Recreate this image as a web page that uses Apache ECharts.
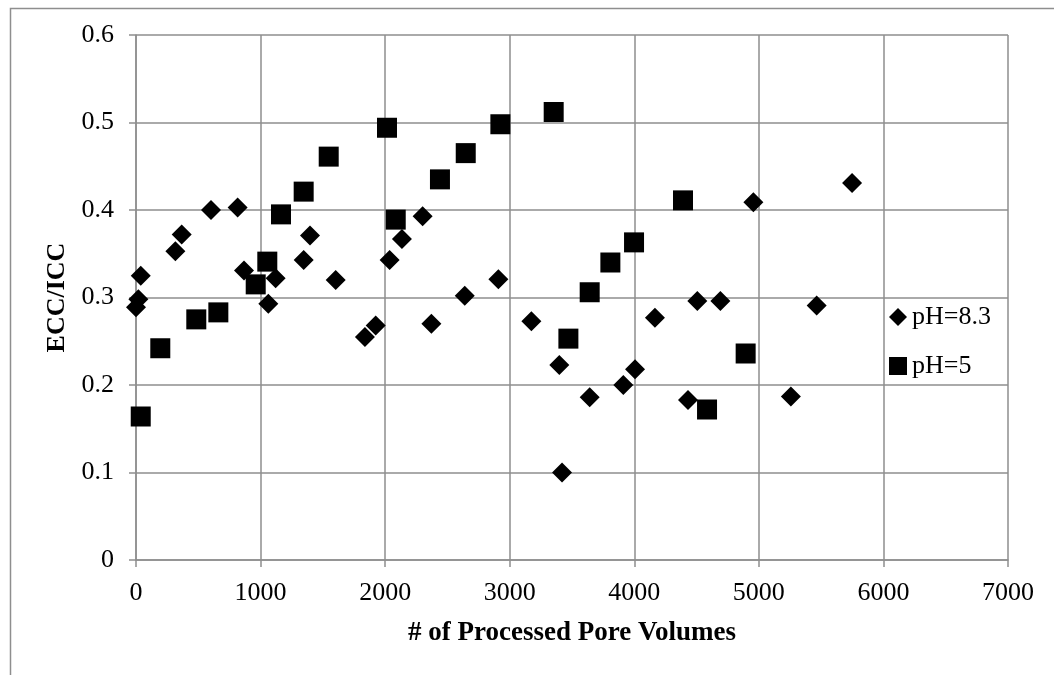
<!DOCTYPE html>
<html>
<head>
<meta charset="utf-8">
<title>ECC/ICC vs processed pore volumes</title>
<script src="https://cdn.jsdelivr.net/npm/echarts@6/dist/echarts.min.js"></script>
<style>
  html, body { margin: 0; padding: 0; background: #fff; }
  #chart { width: 1054px; height: 675px; }
</style>
</head>
<body>
<div id="chart"></div>
<script>
// Series names
const seriesNames = ['pH=8.3', 'pH=5'];

// pH=8.3: processed pore volumes and ECC/ICC
const ph83X = [0, 19, 38, 316, 367, 602, 816, 867, 1062, 1121, 1346, 1397, 1603, 1838, 1924,
  2036, 2135, 2301, 2371, 2639, 2909, 3174, 3398, 3420, 3642, 3912, 4006, 4166, 4431, 4506,
  4691, 4956, 5257, 5464, 5748];
const ph83Y = [0.289, 0.298, 0.325, 0.353, 0.372, 0.400, 0.403, 0.331, 0.293, 0.322, 0.343, 0.371, 0.320, 0.255, 0.268,
  0.343, 0.367, 0.393, 0.270, 0.302, 0.321, 0.273, 0.223, 0.100, 0.186, 0.200, 0.218, 0.277, 0.183, 0.296,
  0.296, 0.409, 0.187, 0.291, 0.431];

// pH=5: processed pore volumes and ECC/ICC
const ph5X = [38, 195, 484, 661, 961, 1054, 1164, 1346, 1547, 2015, 2085, 2440, 2647, 2925,
  3353, 3471, 3642, 3808, 3998, 4391, 4584, 4894];
const ph5Y = [0.164, 0.242, 0.275, 0.283, 0.315, 0.341, 0.395, 0.421, 0.461, 0.494, 0.389, 0.435, 0.465, 0.498,
  0.512, 0.253, 0.306, 0.340, 0.363, 0.411, 0.172, 0.236];

// Axis ranges and titles
const xRange = [0, 7000, 1000];
const yRange = [0, 0.6, 0.1];
const xTitle = '# of Processed Pore Volumes';
const yTitle = 'ECC/ICC';

const pairs = (xs, ys) => xs.map((x, i) => [x, ys[i]]);

const FONT = '"Liberation Serif", "Times New Roman", serif';
const GRID_COLOR = '#8e8e8e';

const chart = echarts.init(document.getElementById('chart'), null, { renderer: 'canvas' });

chart.setOption({
  backgroundColor: '#ffffff',
  animation: false,
  textStyle: { fontFamily: FONT, color: '#000' },
  graphic: [{
    type: 'rect',
    left: 8, top: 6,
    shape: { x: 0, y: 0, width: 1100, height: 700 },
    style: { fill: 'none', stroke: GRID_COLOR, lineWidth: 1.5 },
    silent: true
  }],
  grid: { left: 136, right: 46, top: 35, bottom: 115 },
  legend: {
    orient: 'vertical',
    left: 884,
    top: 299,
    padding: 5,
    itemWidth: 18,
    itemHeight: 18,
    itemGap: 23,
    textStyle: { fontFamily: FONT, fontSize: 26, color: '#000' },
    data: [
      { name: seriesNames[0], icon: 'diamond' },
      { name: seriesNames[1], icon: 'rect' }
    ]
  },
  xAxis: {
    type: 'value',
    min: xRange[0], max: xRange[1], interval: xRange[2],
    name: xTitle,
    nameLocation: 'middle',
    nameGap: 60,
    nameTextStyle: { fontFamily: FONT, fontSize: 27, fontWeight: 'bold', color: '#000' },
    axisLine: { show: true, lineStyle: { color: GRID_COLOR, width: 1.5 } },
    axisTick: { show: true, length: 7, lineStyle: { color: GRID_COLOR, width: 1.5 } },
    axisLabel: { fontFamily: FONT, fontSize: 26, color: '#000', margin: 20, formatter: v => String(v) },
    splitLine: { show: true, lineStyle: { color: GRID_COLOR, width: 1.5 } }
  },
  yAxis: {
    type: 'value',
    min: yRange[0], max: yRange[1], interval: yRange[2],
    name: yTitle,
    nameLocation: 'middle',
    nameGap: 66,
    nameTextStyle: { fontFamily: FONT, fontSize: 26, fontWeight: 'bold', color: '#000' },
    axisLine: { show: true, lineStyle: { color: GRID_COLOR, width: 1.5 } },
    axisTick: { show: true, length: 7, lineStyle: { color: GRID_COLOR, width: 1.5 } },
    axisLabel: { fontFamily: FONT, fontSize: 26, color: '#000', margin: 22 },
    splitLine: { show: true, lineStyle: { color: GRID_COLOR, width: 1.5 } }
  },
  series: [
    {
      name: seriesNames[0],
      type: 'scatter',
      symbol: 'diamond',
      symbolSize: 20,
      itemStyle: { color: '#000', opacity: 1 },
      data: pairs(ph83X, ph83Y),
      z: 3
    },
    {
      name: seriesNames[1],
      type: 'scatter',
      symbol: 'rect',
      symbolSize: 20,
      itemStyle: { color: '#000', opacity: 1 },
      data: pairs(ph5X, ph5Y),
      z: 2
    }
  ]
});
</script>
</body>
</html>
